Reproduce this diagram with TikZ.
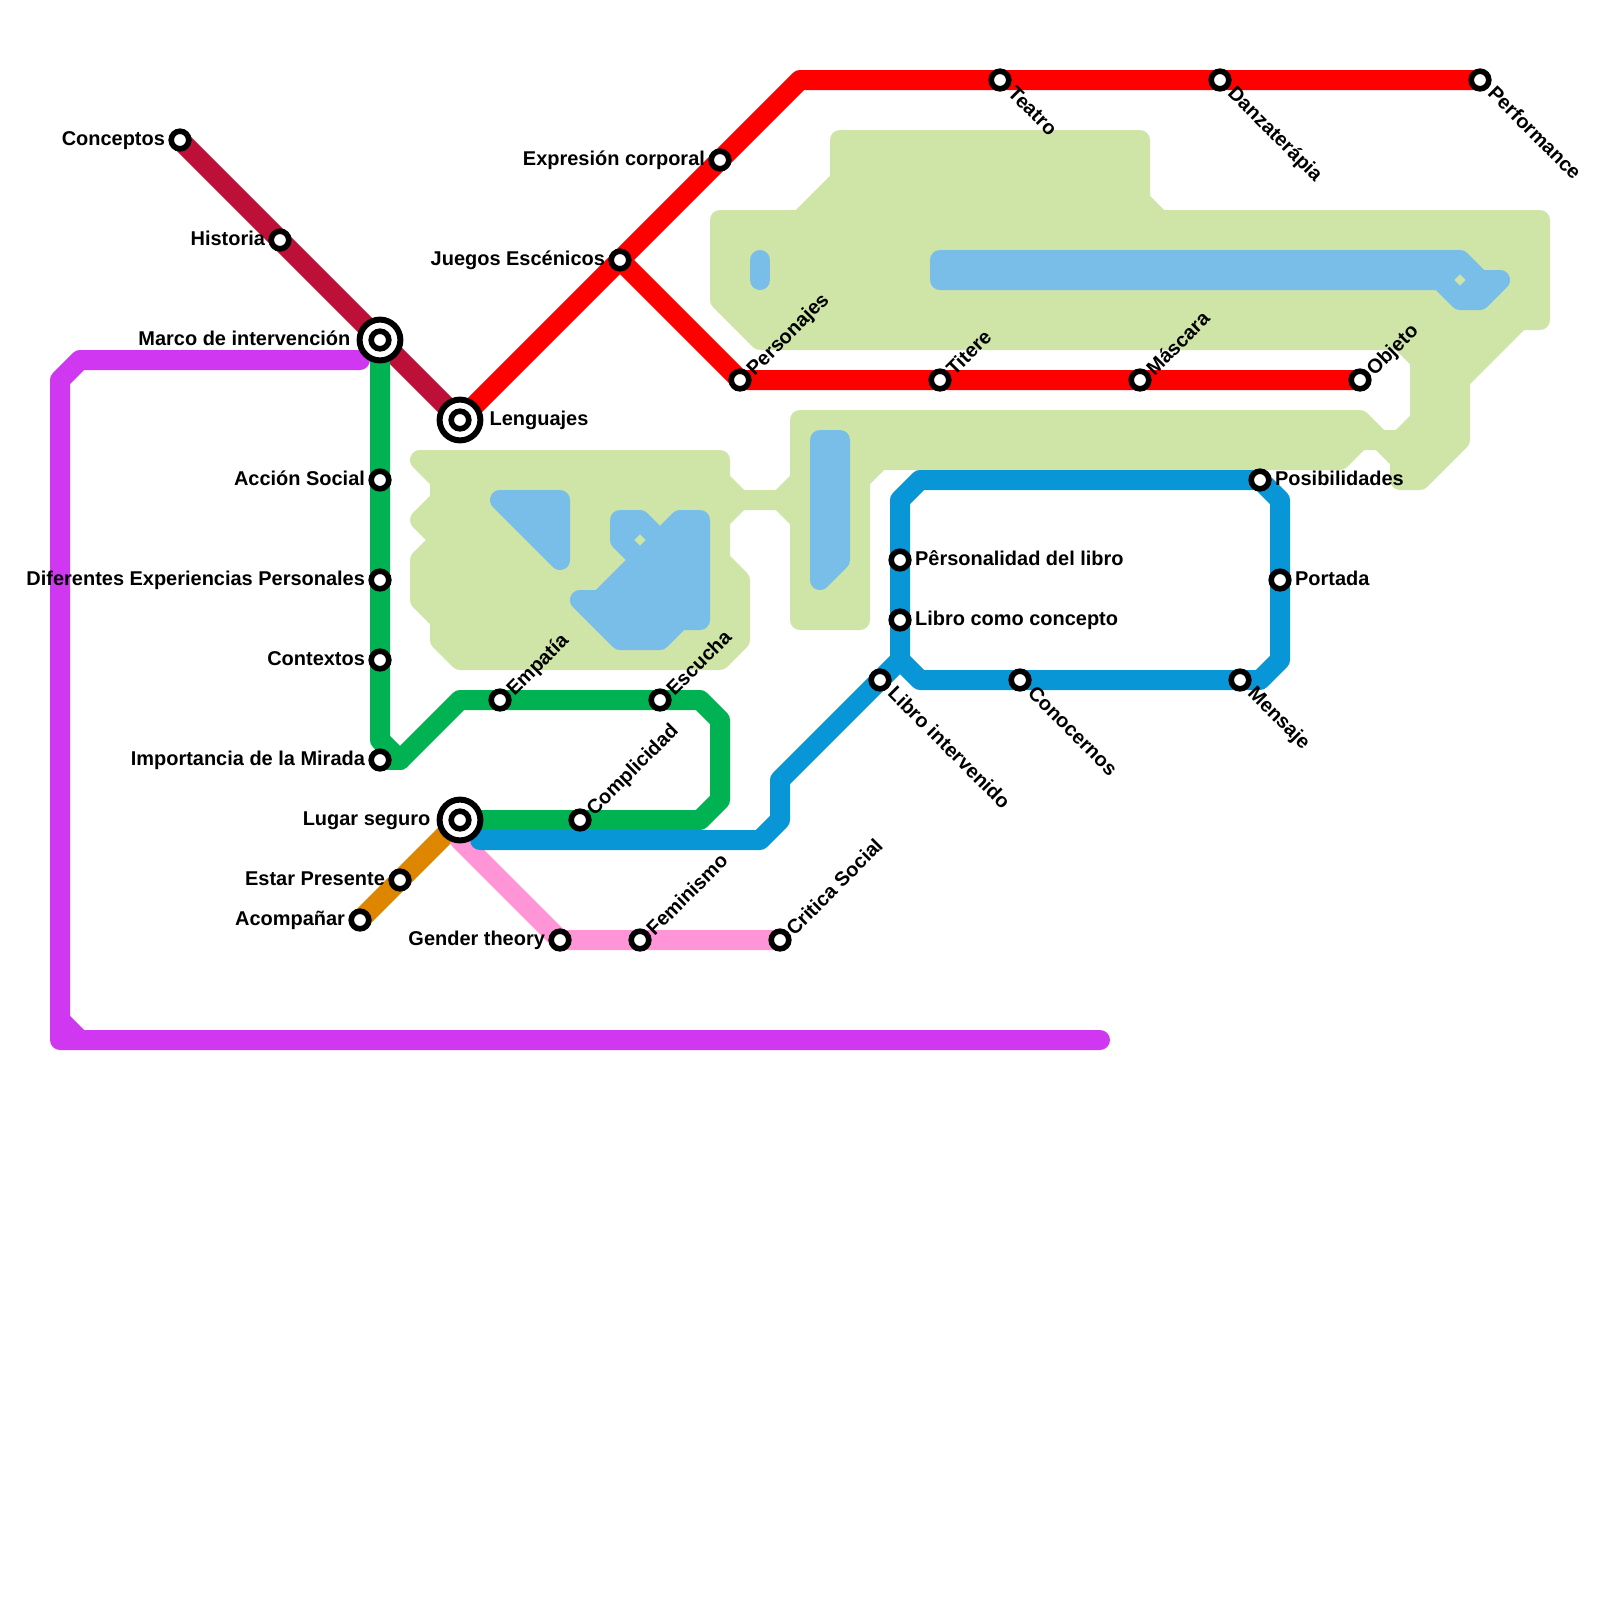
\documentclass[tikz,border=0pt]{standalone}
\usepackage{fontspec}
\setmainfont{Liberation Sans}
\usetikzlibrary{positioning, backgrounds}
\definecolor{landgreen}{HTML}{CFE4A7}
\definecolor{waterblue}{HTML}{79BDE9}
\definecolor{railcrimson}{HTML}{BD1038}
\definecolor{railred}{HTML}{FF0000}
\definecolor{railgreen}{HTML}{00B251}
\definecolor{railblue}{HTML}{0896D7}
\definecolor{railpurple}{HTML}{CF38F0}
\definecolor{railpink}{HTML}{FF94D6}
\definecolor{railorange}{HTML}{DF8600}

\begin{document}
\begin{tikzpicture}[
  x=0.5cm, y=-0.5cm,
  land/.style={fill=landgreen, draw=landgreen, line width=0.5cm, line join=round},
  water/.style={fill=waterblue, draw=waterblue, line width=0.5cm, line join=round, line cap=round},
  rail/.style={line width=0.5cm, line cap=round, line join=round},
  stn/.style={circle, draw=black, fill=white, line width=0.14cm, minimum size=0.44cm, inner sep=0pt},
  hub/.style={circle, draw=black, fill=white, line width=0.15cm, minimum size=1.02cm, inner sep=0pt},
  lbl/.style={font=\fontsize{14.2}{16}\selectfont\bfseries, inner sep=0pt, text height=10pt, text depth=2.2pt},
  lblup/.style={lbl, rotate=45, anchor=west, xshift=0.02cm, yshift=-0.06cm},
  lbldown/.style={lbl, rotate=-45, anchor=west, xshift=0.08cm, yshift=0cm},
]
  \useasboundingbox (0,0) rectangle (80,80);

  \node[stn] (conceptos) at (9,7) {};
  \node[lbl, left=0.08cm of conceptos] {Conceptos};
  \node[stn] (historia) at (14,12) {};
  \node[lbl, left=0.08cm of historia] {Historia};
  \node[hub] (marco) at (19,17) {};
  \node[stn] (marcoin) at (19,17) {};
  \node[lbl, left=0.15cm of marco] {Marco de intervención};
  \node[hub] (lenguajes) at (23,21) {};
  \node[stn] (lenguajesin) at (23,21) {};
  \node[lbl, right=0.15cm of lenguajes] {Lenguajes};

  \node[stn] (juegos) at (31,13) {};
  \node[lbl, left=0.08cm of juegos] {Juegos Escénicos};
  \node[stn] (expresion) at (36,8) {};
  \node[lbl, left=0.08cm of expresion] {Expresión corporal};
  \node[stn] (teatro) at (50,4) {};
  \node[lbldown] at (teatro.-45) {Teatro};
  \node[stn] (danza) at (61,4) {};
  \node[lbldown] at (danza.-45) {Danzaterápia};
  \node[stn] (performance) at (74,4) {};
  \node[lbldown] at (performance.-45) {Performance};
  \node[stn] (personajes) at (37,19) {};
  \node[lblup] at (personajes.45) {Personajes};
  \node[stn] (titere) at (47,19) {};
  \node[lblup] at (titere.45) {Titere};
  \node[stn] (mascara) at (57,19) {};
  \node[lblup] at (mascara.45) {Máscara};
  \node[stn] (objeto) at (68,19) {};
  \node[lblup] at (objeto.45) {Objeto};

  \node[stn] (accion) at (19,24) {};
  \node[lbl, left=0.08cm of accion] {Acción Social};
  \node[stn] (experiencias) at (19,29) {};
  \node[lbl, left=0.08cm of experiencias] {Diferentes Experiencias Personales};
  \node[stn] (contextos) at (19,33) {};
  \node[lbl, left=0.08cm of contextos] {Contextos};
  \node[stn] (mirada) at (19,38) {};
  \node[lbl, left=0.08cm of mirada] {Importancia de la Mirada};
  \node[stn] (empatia) at (25,35) {};
  \node[lblup] at (empatia.45) {Empatía};
  \node[stn] (escucha) at (33,35) {};
  \node[lblup] at (escucha.45) {Escucha};
  \node[stn] (complicidad) at (29,41) {};
  \node[lblup] at (complicidad.45) {Complicidad};
  \node[hub] (lugar) at (23,41) {};
  \node[stn] (lugarin) at (23,41) {};
  \node[lbl, left=0.15cm of lugar] {Lugar seguro};

  \node[stn] (presente) at (20,44) {};
  \node[lbl, left=0.08cm of presente] {Estar Presente};
  \node[stn] (acompanar) at (18,46) {};
  \node[lbl, left=0.08cm of acompanar] {Acompañar};
  \node[stn] (gender) at (28,47) {};
  \node[lbl, left=0.08cm of gender] {Gender theory};
  \node[stn] (feminismo) at (32,47) {};
  \node[lblup] at (feminismo.45) {Feminismo};
  \node[stn] (critica) at (39,47) {};
  \node[lblup] at (critica.45) {Critica Social};

  \node[stn] (intervenido) at (44,34) {};
  \node[lbldown] at (intervenido.-45) {Libro intervenido};
  \node[stn] (personalidad) at (45,28) {};
  \node[lbl, right=0.08cm of personalidad] {Pêrsonalidad del libro};
  \node[stn] (concepto) at (45,31) {};
  \node[lbl, right=0.08cm of concepto] {Libro como concepto};
  \node[stn] (posibilidades) at (63,24) {};
  \node[lbl, right=0.08cm of posibilidades] {Posibilidades};
  \node[stn] (portada) at (64,29) {};
  \node[lbl, right=0.08cm of portada] {Portada};
  \node[stn] (mensaje) at (62,34) {};
  \node[lbldown] at (mensaje.-45) {Mensaje};
  \node[stn] (conocernos) at (51,34) {};
  \node[lbldown] at (conocernos.-45) {Conocernos};

  \coordinate (redtop) at (40,4);
  \coordinate (greenA) at (19,37);
  \coordinate (greenB) at (20,38);
  \coordinate (greenC) at (23,35);
  \coordinate (greenD) at (35,35);
  \coordinate (greenE) at (36,36);
  \coordinate (greenF) at (36,40);
  \coordinate (greenG) at (35,41);
  \coordinate (blueA) at (24,42);
  \coordinate (blueB) at (38,42);
  \coordinate (blueC) at (39,41);
  \coordinate (blueD) at (39,39);
  \coordinate (blueE) at (45,33);
  \coordinate (blueF) at (45,25);
  \coordinate (blueG) at (46,24);
  \coordinate (blueH) at (64,25);
  \coordinate (blueI) at (64,33);
  \coordinate (blueJ) at (63,34);
  \coordinate (blueK) at (46,34);
  \coordinate (pinkA) at (23,42);
  \coordinate (purpleA) at (18,18);
  \coordinate (purpleB) at (4,18);
  \coordinate (purpleC) at (3,19);
  \coordinate (purpleD) at (3,51);
  \coordinate (purpleE) at (4,52);
  \coordinate (purpleF) at (3,52);
  \coordinate (purpleG) at (55,52);

  \begin{scope}[on background layer]
    \path[land] (21,23) -- (36,23) -- (36,24) -- (37,25) -- (39,25) -- (40,24) -- (40,21)
      -- (68,21) -- (69,22) -- (70,22) -- (71,21) -- (71,18) -- (70,17) -- (38,17)
      -- (36,15) -- (36,11) -- (40,11) -- (42,9) -- (42,7) -- (57,7) -- (57,10) -- (58,11)
      -- (77,11) -- (77,16) -- (76,16) -- (73,19) -- (73,22) -- (71,24) -- (70,24) -- (70,23)
      -- (69,22) -- (68,22) -- (67,23) -- (44,23) -- (43,24) -- (43,31) -- (40,31) -- (40,26)
      -- (39,25) -- (37,25) -- (36,26) -- (36,28) -- (37,29) -- (37,32) -- (36,33) -- (23,33)
      -- (22,32) -- (22,31) -- (21,30) -- (21,28) -- (22,27) -- (21,26) -- (22,25) -- (22,24) -- cycle;

    \path[water] (25,25) -- (28,25) -- (28,28) -- cycle;
    \path[water] (31,26) -- (32,26) -- (33,27) -- (34,26) -- (35,26) -- (35,31) -- (34,31)
      -- (33,32) -- (31,32) -- (29,30) -- (30,30) -- (32,28) -- (31,27) -- cycle;
    \path[water] (38,13) -- (38,14);
    \path[water] (47,13) -- (73,13) -- (74,14) -- (75,14) -- (74,15) -- (73,15) -- (72,14) -- (47,14) -- cycle;
    \path[water] (41,22) -- (42,22) -- (42,28) -- (41,29) -- cycle;
    \fill[landgreen] (31.72,27) -- (32,26.72) -- (32.28,27) -- (32,27.28) -- cycle;
    \fill[landgreen] (72.72,14) -- (73,13.72) -- (73.28,14) -- (73,14.28) -- cycle;

    \draw[rail, railpurple] (purpleA) -- (purpleB) -- (purpleC) -- (purpleF) -- (purpleG);
    \draw[rail, railpurple] (purpleD) -- (purpleE);
    \draw[rail, railcrimson] (conceptos.center) -- (historia.center) -- (marco.center) -- (lenguajes.center);
    \draw[rail, railorange] (acompanar.center) -- (presente.center) -- (lugar.center);
    \draw[rail, railpink] (pinkA) -- (gender.center) -- (feminismo.center) -- (critica.center);
    \draw[rail, railred] (lenguajes.center) -- (juegos.center) -- (expresion.center) -- (redtop)
      -- (teatro.center) -- (danza.center) -- (performance.center);
    \draw[rail, railred] (juegos.center) -- (personajes.center) -- (titere.center) -- (mascara.center) -- (objeto.center);
    \draw[rail, railgreen] (marco.center) -- (accion.center) -- (experiencias.center) -- (contextos.center)
      -- (greenA) -- (greenB) -- (greenC) -- (empatia.center) -- (escucha.center) -- (greenD)
      -- (greenE) -- (greenF) -- (greenG) -- (complicidad.center) -- (lugar.center);
    \draw[rail, railgreen] (mirada.center) -- (greenB);
    \draw[rail, railblue] (blueA) -- (blueB) -- (blueC) -- (blueD) -- (intervenido.center) -- (blueE);
    \draw[rail, railblue] (blueE) -- (concepto.center) -- (personalidad.center) -- (blueF) -- (blueG)
      -- (posibilidades.center) -- (blueH) -- (portada.center) -- (blueI) -- (blueJ) -- (mensaje.center)
      -- (conocernos.center) -- (blueK) -- cycle;
  \end{scope}
\end{tikzpicture}
\end{document}
